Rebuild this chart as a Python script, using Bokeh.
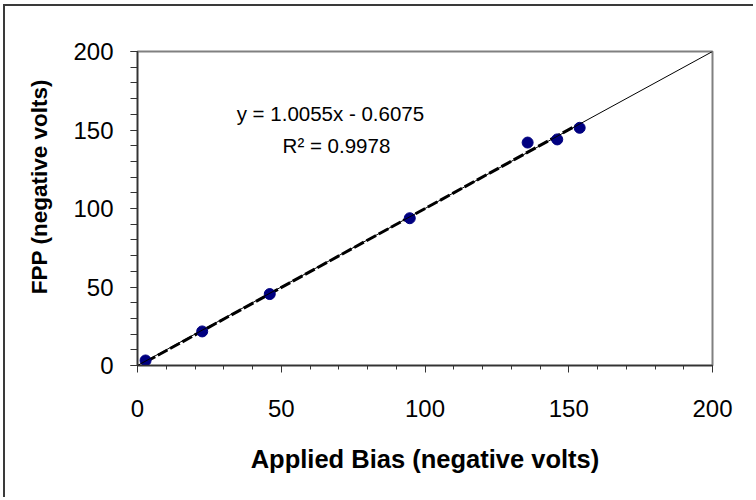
import numpy as np
from bokeh.plotting import figure
from bokeh.models import Range1d, Label, Slope, FixedTicker
from bokeh.embed import file_html
from bokeh.resources import INLINE

# ---- data ----
applied_bias = [2.8, 22.5, 46.0, 94.7, 135.7, 146.0, 153.8]
fpp = [3.2, 21.7, 45.5, 93.8, 142.0, 144.0, 151.4]
fit_slope = 1.0055
fit_intercept = -0.6075
major_ticks = [0, 50, 100, 150, 200]
minor_ticks = [0, 10, 20, 30, 40, 50, 60, 70, 80, 90, 100, 110, 120, 130, 140, 150, 160, 170, 180, 190, 200]
eq_text = "y = 1.0055x - 0.6075"
r2_text = "R\u00b2 = 0.9978"
x_title = "Applied Bias (negative volts)"
y_title = "FPP (negative volts)"

FONT = "Liberation Sans"

p = figure(width=750, height=493, output_backend="svg", toolbar_location=None,
           x_range=Range1d(0, 200), y_range=Range1d(0, 200),
           min_border_left=132, min_border_right=43, min_border_top=45, min_border_bottom=134)
# outer chart border: only its left and top edges fall inside the reference crop
p.styles = {"margin-left": "5px", "margin-top": "6px",
            "box-shadow": "-2px -2px 0px 0px #3a3a3a"}

p.background_fill_color = "white"
p.border_fill_color = "white"
p.outline_line_color = "#808080"
p.outline_line_width = 2
p.xgrid.visible = False
p.ygrid.visible = False

for ax in (p.xaxis[0], p.yaxis[0]):
    ax.ticker = FixedTicker(ticks=major_ticks, minor_ticks=minor_ticks)
    ax.axis_line_color = "#333333"
    ax.axis_line_width = 1.5
    ax.major_tick_line_color = "#333333"
    ax.minor_tick_line_color = "#333333"
    ax.major_tick_in = 0
    ax.major_tick_out = 7
    ax.minor_tick_in = 0
    ax.minor_tick_out = 4
    ax.major_label_text_font = FONT
    ax.major_label_text_font_size = "24px"
    ax.major_label_text_color = "black"
    ax.axis_label_text_font = FONT
    ax.axis_label_text_font_style = "bold"
    ax.axis_label_text_color = "black"

p.yaxis[0].minor_tick_out = 7
p.xaxis[0].axis_label = x_title
p.xaxis[0].axis_label_text_font_size = "25.5px"
p.xaxis[0].major_label_standoff = 27
p.xaxis[0].axis_label_standoff = 25
p.yaxis[0].axis_label = "\u00a0" * 7 + y_title
p.yaxis[0].axis_label_text_font_size = "22.5px"
p.yaxis[0].major_label_standoff = 17
p.yaxis[0].axis_label_standoff = 18

# identity line
p.add_layout(Slope(gradient=1, y_intercept=0, line_color="black", line_width=1))

# trendline across the data range
xs = np.array([min(applied_bias), max(applied_bias)])
ys = fit_slope * xs + fit_intercept
p.line(xs, ys, line_color="black", line_width=3, line_dash="11 3")

p.scatter(applied_bias, fpp, size=11, fill_color="#000080", line_color="#000080")

p.add_layout(Label(x=67.1, y=160.5, text=eq_text, text_align="center", text_baseline="middle",
                   text_font=FONT, text_font_size="20.5px", text_color="black"))
p.add_layout(Label(x=69.2, y=140.1, text=r2_text, text_align="center", text_baseline="middle",
                   text_font=FONT, text_font_size="20.5px", text_color="black"))

open("out.html", "w").write(file_html(p, INLINE))
